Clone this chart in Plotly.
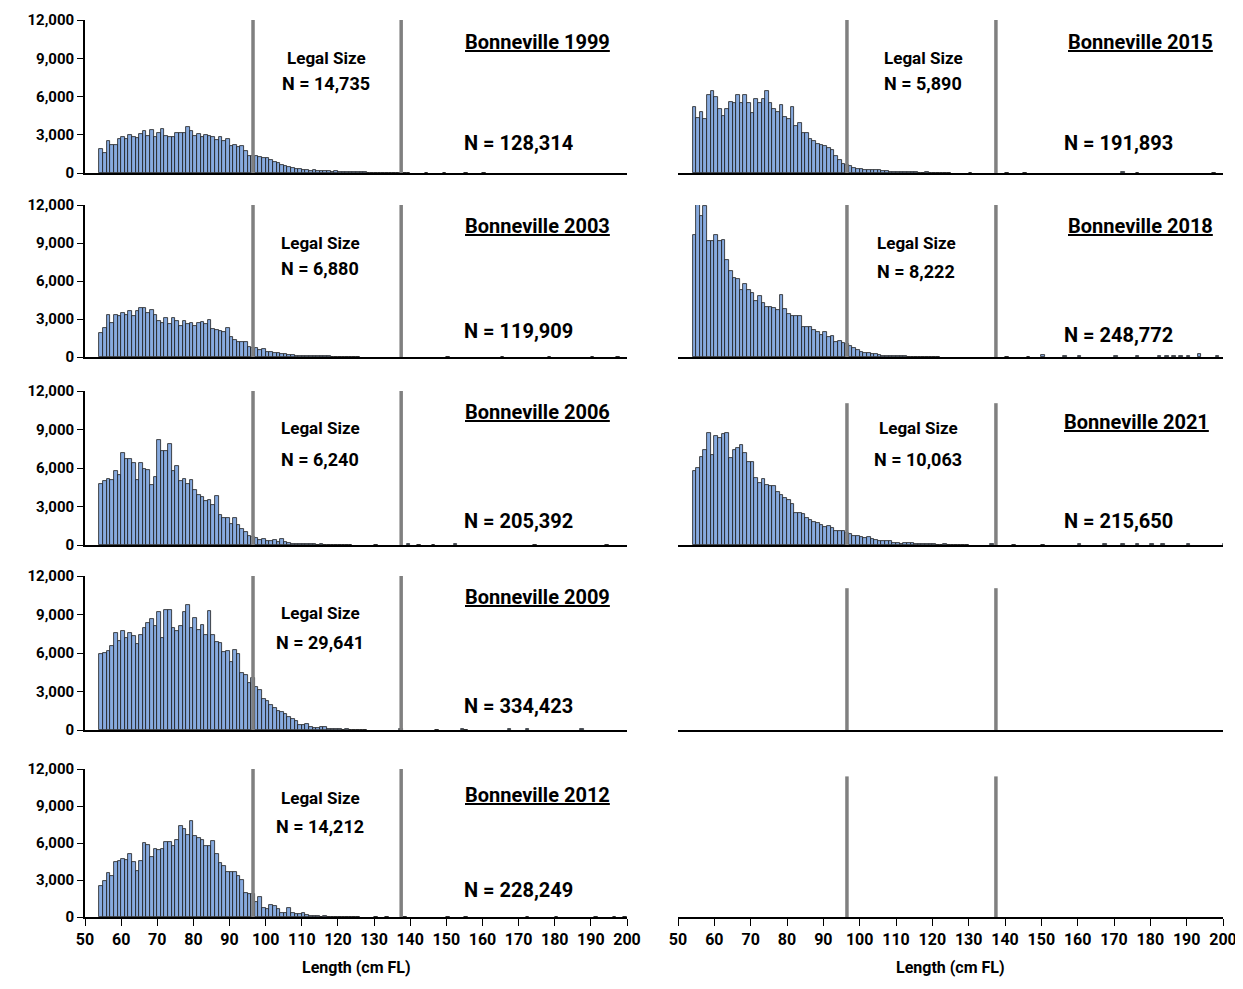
import plotly.graph_objects as go
from plotly.subplots import make_subplots

# ---------------- data (counts per 1-cm length bin, first bin = 54 cm) ----------------
START_CM = 54
LEGAL_MIN_CM = 96.5
LEGAL_MAX_CM = 137.5

Y1999 = [1900, 1550, 2500, 2200, 2200, 2700, 2850, 2700, 2950, 2800,
         2750, 3050, 3300, 2900, 3400, 2850, 3100, 3450, 2900, 2850,
         2850, 3150, 3100, 3150, 3600, 3300, 2900, 3050, 2800, 3000,
         2900, 2800, 2550, 2800, 2500, 2700, 2100, 2200, 2050, 2100,
         1750, 1350, 1350, 1350, 1250, 1200, 1150, 1000, 850, 750,
         650, 550, 480, 380, 330, 300, 250, 220, 190, 210,
         160, 180, 140, 140, 110, 130, 100, 80, 70, 70,
         60, 60, 40, 40, 30, 30, 30, 20, 25, 20, 15, 20, 10, 15, 10, 10]
TAIL_1999 = {144: 20, 149: 15, 155: 10, 160: 15}

Y2003 = [1880, 2320, 3310, 2720, 3310, 3240, 3450, 3310, 3650, 3240,
         3600, 3860, 3840, 3450, 3730, 3340, 2870, 2690, 3050, 2610,
         3110, 2820, 2480, 2870, 2610, 2720, 2450, 2660, 2770, 2610,
         2950, 2240, 2170, 2090, 2010, 2300, 1570, 1310, 1170, 1170,
         1170, 780, 730, 750, 560, 640, 420, 370, 290, 280,
         200, 230, 180, 170, 110, 110, 90, 80, 70, 60,
         50, 50, 40, 40, 30, 30, 20, 20, 20, 15, 10, 10]
TAIL_2003 = {150: 10, 165: 10, 178: 10, 190: 10, 197: 10}

Y2006 = [4740, 5000, 5140, 5060, 5790, 5450, 7150, 6710, 6680, 6370,
         5060, 6420, 5900, 5840, 4660, 5270, 8200, 7340, 7340, 7860,
         5760, 6160, 4980, 5140, 4740, 5060, 4270, 3880, 3750, 3430,
         3480, 3090, 3830, 2310, 2100, 2100, 1650, 2100, 1520, 1210,
         1050, 680, 600, 550, 420, 500, 340, 340, 420, 210,
         500, 240, 160, 100, 80, 70, 60, 60, 40, 50,
         30, 40, 30, 20, 30, 20, 20, 15, 20, 10]
TAIL_2006 = {130: 30, 139: 40, 142: 30, 146: 30, 152: 40, 174: 30, 194: 30}

Y2009 = [5920, 6000, 6180, 6550, 7550, 6940, 7730, 7150, 7550, 7360,
         6680, 7410, 7940, 8330, 8670, 8120, 9200, 7150, 9330, 9330,
         7940, 7680, 8120, 9170, 9720, 7940, 8720, 7810, 8200, 7410,
         9250, 7410, 6890, 6760, 6050, 6150, 5270, 6240, 5900, 4480,
         4270, 3690, 4060, 3350, 3090, 2380, 2230, 1970, 1700, 1470,
         1440, 1260, 1050, 860, 730, 420, 390, 500, 260, 180,
         160, 210, 260, 80, 50, 40, 60, 30, 40, 30, 20, 20, 15, 10]
TAIL_2009 = {137: 40, 147: 30, 154: 40, 155: 30, 167: 40, 172: 50, 187: 40}

Y2012 = [2480, 2890, 3560, 3290, 4430, 4510, 4730, 4640, 5100, 4460,
         3700, 4510, 5990, 5860, 4830, 5510, 5400, 5540, 6080, 6080,
         5720, 6260, 7400, 7160, 6670, 7750, 6530, 6400, 6260, 5720,
         5720, 6130, 5100, 4370, 4100, 3650, 3650, 3650, 3290, 3020,
         1940, 1860, 1860, 1220, 1590, 730, 680, 950, 860, 680,
         320, 320, 730, 320, 240, 240, 320, 190, 80, 50,
         60, 40, 100, 30, 40, 30, 20, 30, 40, 20, 20, 10]
TAIL_2012 = {130: 30, 133: 40, 138: 40, 150: 40, 155: 30, 172: 30, 180: 30, 191: 40, 196: 40, 199: 40}

Y2015 = [5200, 4300, 4800, 4200, 6100, 6400, 6000, 5000, 4500, 5000,
         5600, 5500, 6100, 5500, 6100, 5500, 4700, 5800, 5500, 5800,
         6400, 5500, 5000, 4800, 5300, 4400, 4200, 5200, 3700, 3900,
         3100, 3100, 2700, 2500, 2300, 2200, 2100, 2000, 1800, 1300,
         1000, 700, 650, 550, 400, 350, 300, 250, 250, 200,
         250, 200, 150, 150, 100, 80, 80, 60, 50, 60,
         40, 40, 30, 30, 40, 20, 20, 30, 15, 20, 10]
TAIL_2015 = {130: 30, 140: 30, 145: 20, 172: 50, 176: 30, 197: 30}

Y2018 = [9660, 12500, 11100, 11900, 9140, 9190, 9660, 9140, 9270, 7650,
         6790, 6210, 6190, 5320, 5790, 5320, 5090, 4440, 4830, 4250,
         3940, 3960, 3860, 3700, 4910, 3780, 3390, 3240, 3240, 3240,
         2400, 2400, 2400, 2140, 1960, 1700, 1960, 1540, 1670, 1170,
         1250, 1120, 1040, 900, 700, 560, 420, 340, 300, 220,
         200, 140, 110, 90, 70, 60, 50, 40, 40, 30,
         30, 20, 30, 20, 20, 15, 20, 10]
TAIL_2018 = {140: 30, 146: 30, 150: 150, 156: 40, 160: 40, 170: 40, 176: 60,
             182: 60, 184: 50, 186: 60, 188: 60, 190: 70, 193: 200, 198: 50}

Y2021 = [5770, 6030, 6840, 7410, 8710, 7020, 8500, 8370, 8660, 8710,
         6760, 7380, 7540, 7800, 7150, 6450, 6450, 5200, 4810, 5120,
         4680, 4600, 4600, 4160, 3900, 3640, 3510, 3200, 2520, 2470,
         2390, 2130, 1950, 1820, 1690, 1560, 1430, 1510, 1300, 1090,
         1120, 1090, 910, 860, 730, 680, 650, 520, 600, 440,
         360, 310, 310, 340, 310, 180, 160, 100, 160, 160,
         130, 100, 60, 50, 40, 50, 40, 30, 30, 40, 20, 30, 20, 20, 15, 10]
TAIL_2021 = {136: 60, 142: 30, 150: 30, 160: 40, 167: 50, 172: 60, 176: 50,
             180: 40, 183: 50, 190: 40, 200: 80}

YEARS = [1999, 2003, 2006, 2009, 2012, 2015, 2018, 2021]
VALUES = [Y1999, Y2003, Y2006, Y2009, Y2012, Y2015, Y2018, Y2021]
TAILS = [TAIL_1999, TAIL_2003, TAIL_2006, TAIL_2009, TAIL_2012, TAIL_2015, TAIL_2018, TAIL_2021]
LEGAL_N = ["14,735", "6,880", "6,240", "29,641", "14,212", "5,890", "8,222", "10,063"]
TOTAL_N = ["128,314", "119,909", "205,392", "334,423", "228,249", "191,893", "248,772", "215,650"]
CELLS = [(1, 1), (2, 1), (3, 1), (4, 1), (5, 1), (1, 2), (2, 2), (3, 2)]

Y_TICKS = [0, 3000, 6000, 9000, 12000]
X_TICKS = list(range(50, 201, 10))

# ---------------- layout helpers ----------------
W, H = 1243, 989
PAGE_OFFSET = 8          # the page body offsets the figure by 8 px
FONT = "Roboto, Liberation Sans, sans-serif"
BAR_FILL = "#87AADF"
LINE_GREY = "#808080"

X_DOM = {1: (85, 627), 2: (678, 1223)}
Y_PIX = {1: (20, 173), 2: (205, 357), 3: (391, 545), 4: (576, 730), 5: (769, 917)}
LINE_TOP = {(1, 1): 12000, (2, 1): 12000, (3, 1): 12000, (4, 1): 12000, (5, 1): 12000,
            (1, 2): 12000, (2, 2): 12000, (3, 2): 11050, (4, 2): 11050, (5, 2): 11400}

fig = make_subplots(rows=5, cols=2)


def px_x(px):
    return (px - PAGE_OFFSET) / W


def px_y(py):
    return 1 - (py - PAGE_OFFSET) / H


for year, vals, tail, legal, total, (r, c) in zip(YEARS, VALUES, TAILS, LEGAL_N, TOTAL_N, CELLS):
    counts = {START_CM + i: v for i, v in enumerate(vals)}
    counts.update(tail)
    lengths = sorted(counts)
    fig.add_trace(
        go.Bar(
            x=[L + 0.5 for L in lengths],
            y=[counts[L] for L in lengths],
            width=1.0,
            marker=dict(color=BAR_FILL, line=dict(color="#1a1a1a", width=0.8)),
            showlegend=False,
            hoverinfo="x+y",
        ),
        row=r, col=c,
    )

for r in range(1, 6):
    for c in (1, 2):
        n = (r - 1) * 2 + c
        xa = "xaxis" if n == 1 else f"xaxis{n}"
        ya = "yaxis" if n == 1 else f"yaxis{n}"
        x0, x1 = X_DOM[c]
        ytop, ybot = Y_PIX[r]
        bottom = r == 5
        fig.layout[xa].update(
            domain=[px_x(x0), px_x(x1)],
            range=[50, 200],
            automargin=False,
            showline=True, linecolor="black", linewidth=1.6,
            showgrid=False, zeroline=False,
            tickvals=X_TICKS,
            ticks="outside" if bottom else "",
            ticklen=7, tickcolor="black", tickwidth=1.2,
            showticklabels=bottom,
            tickfont=dict(family=FONT, size=16, color="black", weight="bold"),
        )
        fig.layout[ya].update(
            domain=[px_y(ybot), px_y(ytop)],
            range=[0, 12000],
            automargin=False,
            showgrid=False, zeroline=False,
            fixedrange=True,
        )
        if c == 1:
            fig.layout[ya].update(
                showline=True, linecolor="black", linewidth=1.6,
                tickvals=Y_TICKS, tickformat=",d",
                ticks="outside", ticklen=6, tickcolor="black", tickwidth=1.2,
                tickfont=dict(family=FONT, size=15, color="black", weight="bold"),
            )
        else:
            fig.layout[ya].update(visible=False)
        xr = "x" if n == 1 else f"x{n}"
        yr = "y" if n == 1 else f"y{n}"
        for lx in (LEGAL_MIN_CM, LEGAL_MAX_CM):
            fig.add_shape(type="line", xref=xr, yref=yr, x0=lx, x1=lx, y0=0,
                          y1=LINE_TOP[(r, c)], line=dict(color=LINE_GREY, width=3.5))

# ---------------- annotations ----------------
ann = []
TEXT_POS = {
    (1, 1): (326, 58, 84, 537, 42, 518, 143),
    (2, 1): (320, 243, 269, 537, 226, 518, 331),
    (3, 1): (320, 428, 459, 537, 412, 518, 521),
    (4, 1): (320, 613, 642, 537, 597, 518, 706),
    (5, 1): (320, 798, 826, 537, 795, 518, 890),
    (1, 2): (923, 58, 84, 1140, 42, 1118, 143),
    (2, 2): (916, 243, 271, 1140, 226, 1118, 335),
    (3, 2): (918, 428, 459, 1136, 422, 1118, 521),
}
for year, legal, total, cell in zip(YEARS, LEGAL_N, TOTAL_N, CELLS):
    lx, ly, lny, tx, ty, nx, ny = TEXT_POS[cell]
    base = dict(xref="paper", yref="paper", showarrow=False, xanchor="center", yanchor="middle")
    ann.append(dict(base, x=px_x(lx), y=px_y(ly), text="Legal Size",
                    font=dict(family=FONT, color="black", size=17, weight="bold")))
    ann.append(dict(base, x=px_x(lx), y=px_y(lny), text=f"N = {legal}",
                    font=dict(family=FONT, color="black", size=18, weight="bold")))
    ann.append(dict(base, x=px_x(tx), y=px_y(ty), text=f"<u>Bonneville {year}</u>",
                    font=dict(family=FONT, color="black", size=20, weight="bold")))
    ann.append(dict(base, x=px_x(nx), y=px_y(ny), text=f"N = {total}",
                    font=dict(family=FONT, color="black", size=20, weight="bold")))

for c in (1, 2):
    x0, x1 = X_DOM[c]
    ann.append(dict(xref="paper", yref="paper", x=px_x((x0 + x1) / 2), y=px_y(967),
                    text="Length (cm FL)", showarrow=False, xanchor="center", yanchor="middle",
                    font=dict(family=FONT, color="black", size=16, weight="bold")))

fig.update_layout(
    width=W, height=H,
    margin=dict(l=0, r=0, t=0, b=0, autoexpand=False),
    paper_bgcolor="white", plot_bgcolor="white",
    bargap=0,
    annotations=ann,
    font=dict(family=FONT, color="black"),
)

fig.write_html("out.html")
